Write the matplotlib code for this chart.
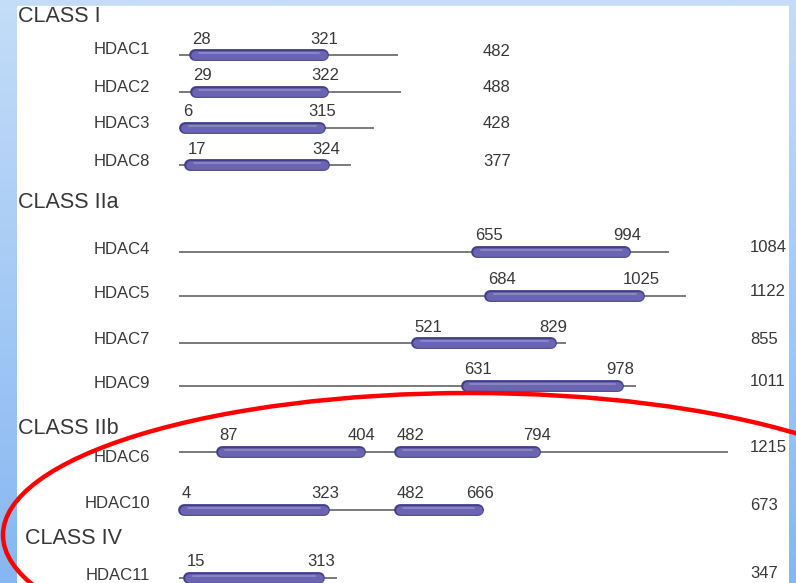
import numpy as np
import matplotlib
matplotlib.use("Agg")
import matplotlib.pyplot as plt
from matplotlib.patches import Rectangle, Ellipse
from matplotlib.colors import LinearSegmentedColormap

plt.rcParams['font.family'] = ['Liberation Sans', 'DejaVu Sans']

# data (amino acid positions)
class_names = ['CLASS I', 'CLASS IIa', 'CLASS IIb', 'CLASS IV']
class_sizes = [4, 4, 2, 1]
names = ['HDAC1', 'HDAC2', 'HDAC3', 'HDAC8',
         'HDAC4', 'HDAC5', 'HDAC7', 'HDAC9',
         'HDAC6', 'HDAC10', 'HDAC11']
lengths = [482, 488, 428, 377, 1084, 1122, 855, 1011, 1215, 673, 347]
domain_starts = [[28], [29], [6], [17], [655], [684], [521], [631], [87, 482], [4, 482], [15]]
domain_ends = [[321], [322], [315], [324], [994], [1025], [829], [978], [404, 794], [323, 666], [313]]

W, H = 796, 583
row_y = [55, 92, 128, 165, 252, 296, 343, 386, 452, 510, 578]
name_dy = [-5, -4, -5, -4, -3, -3, -3, -3, 5, -7, -3]
class_y = [16, 203, 428, 539]
class_x = [18, 18, 18, 25]
x0_px = 180      # where residue 0 sits
px_per_aa = 0.45

txt = '#383838'
fig = plt.figure(figsize=(W / 100, H / 100), dpi=100)

grad = np.linspace(0, 1, 256).reshape(-1, 1)
cmap = LinearSegmentedColormap.from_list('bg', ['#c4ddf8', '#86b7f2'])

# background + white panel
bg = fig.add_axes([0, 0, 1, 1])
bg.imshow(grad, cmap=cmap, aspect='auto', extent=(0, W, H, 0))
bg.add_patch(Rectangle((17, 6), 772, H, color='white'))
bg.set_xlim(0, W)
bg.set_ylim(H, 0)
bg.axis('off')

# data axes, x in residues
ax = fig.add_axes([0, 0, 1, 1])
ax.patch.set_alpha(0)
ax.set_xlim(-x0_px / px_per_aa, (W - x0_px) / px_per_aa)
ax.set_ylim(H, 0)
ax.axis('off')

for i in range(len(names)):
    y = row_y[i]
    ax.plot([0, lengths[i]], [y, y], color='#7a7a7a', lw=1.4, zorder=2)
    for s, e in zip(domain_starts[i], domain_ends[i]):
        ax.plot([s + 6, e - 4], [y, y], color='#433e88', lw=8.5,
                solid_capstyle='round', zorder=3)
        ax.plot([s + 6, e - 4], [y, y], color='#6a64b2', lw=6.3,
                solid_capstyle='round', zorder=4)
        ax.plot([s + 14, e - 12], [y - 1.8, y - 1.8], color='#8d89c8', lw=1.3,
                solid_capstyle='round', zorder=5)
        ax.text(s, y - 16, str(s), ha='left', va='center', fontsize=12, color=txt)
        ax.text(e, y - 16, str(e), ha='center', va='center', fontsize=12, color=txt)

# layout text in pixel coords
pax = fig.add_axes([0, 0, 1, 1])
pax.patch.set_alpha(0)
pax.set_xlim(0, W)
pax.set_ylim(H, 0)
pax.axis('off')

row = 0
for c, cname in enumerate(class_names):
    pax.text(class_x[c], class_y[c], cname, ha='left', va='center',
             fontsize=15.5, color=txt)
    for k in range(class_sizes[c]):
        y = row_y[row]
        pax.text(150, y + name_dy[row], names[row], ha='right', va='center',
                 fontsize=12, color=txt)
        lx = 483 if c == 0 else 750
        pax.text(lx, y - 4, str(lengths[row]), ha='left', va='center',
                 fontsize=12, color=txt)
        row += 1

# blue frame strips on top (clip long labels) and the red ring
ov = fig.add_axes([0, 0, 1, 1])
ov.patch.set_alpha(0)
for ext in [(789, W, H, 0), (0, 17, H, 0)]:
    ov.imshow(grad, cmap=cmap, aspect='auto', extent=ext)
ov.add_patch(Ellipse((470, 535), 934, 284, fill=False, ec='#ff0000', lw=3.2))
ov.set_xlim(0, W)
ov.set_ylim(H, 0)
ov.axis('off')

fig.savefig('out.png', dpi=100)
